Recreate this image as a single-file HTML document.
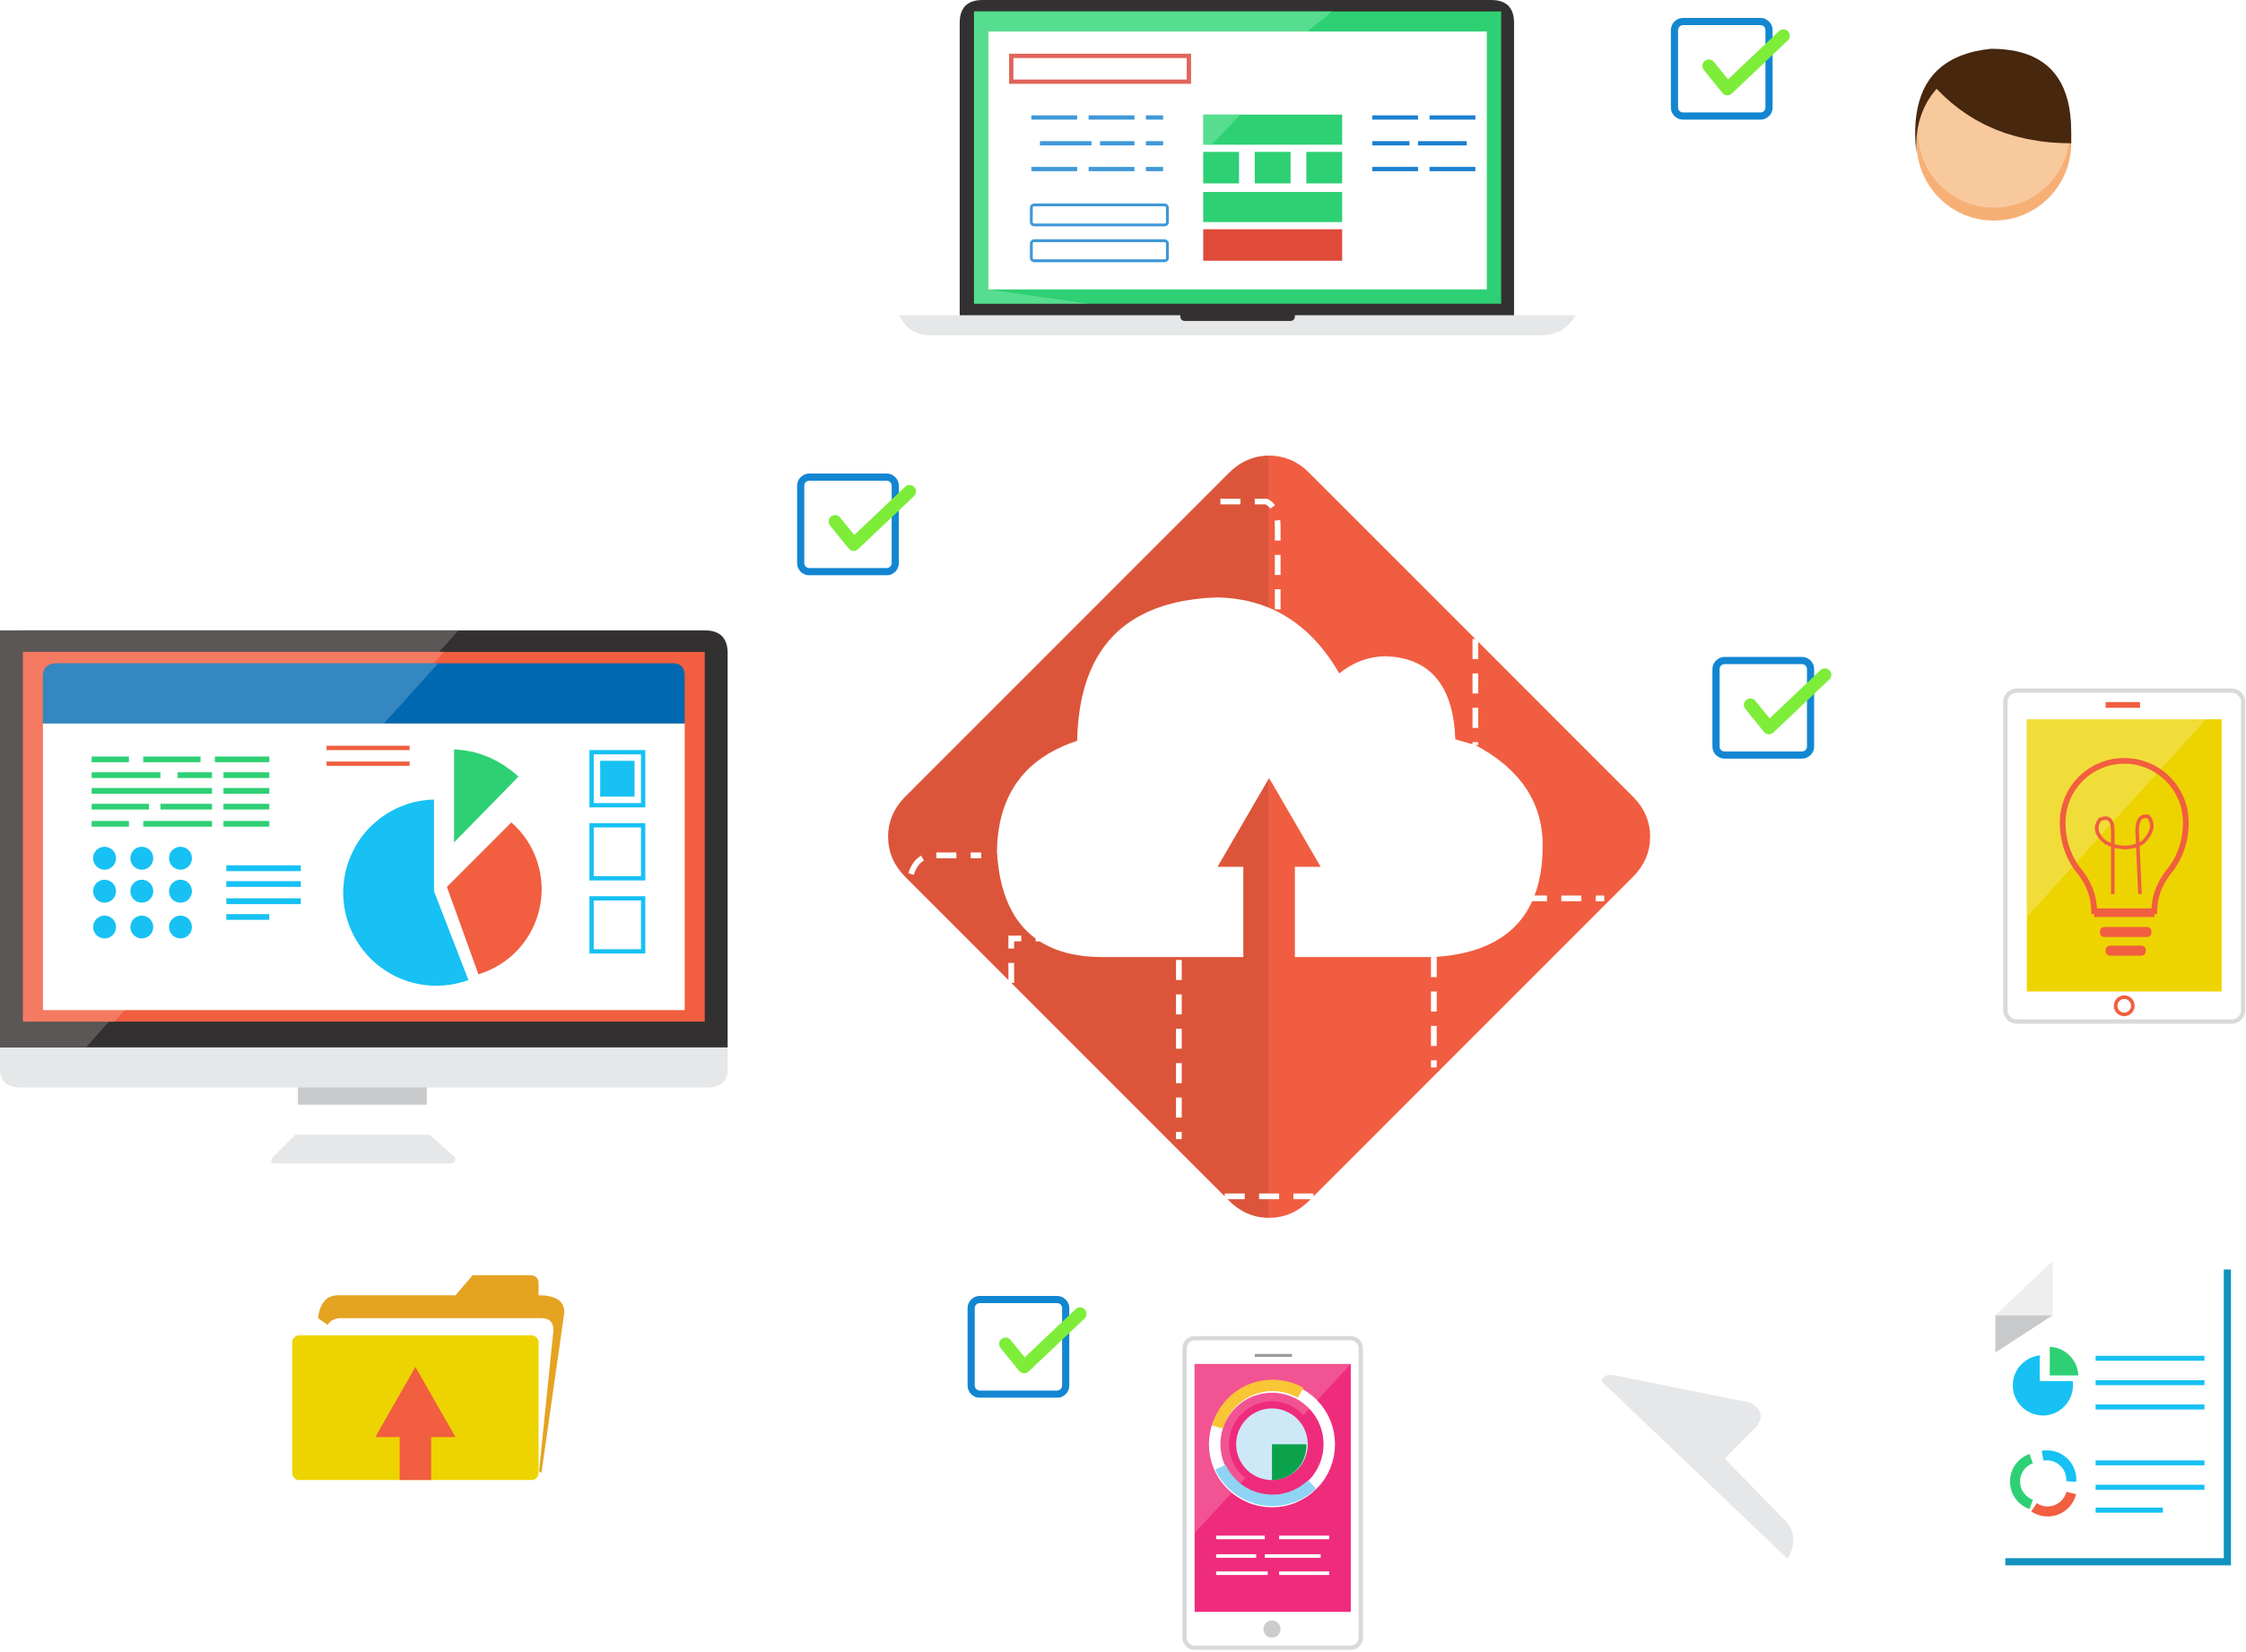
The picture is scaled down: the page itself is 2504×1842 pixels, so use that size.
<!DOCTYPE html>
<html><head><meta charset="utf-8"><style>
html,body{margin:0;padding:0;background:#fff;}
svg{display:block;width:2504px;height:1842px;}
</style></head><body>
<svg viewBox="0 0 1568 1153" xmlns="http://www.w3.org/2000/svg" preserveAspectRatio="none">
<defs>
<g id="chk">
<rect x="2" y="2" width="66" height="66" rx="6" fill="none" stroke="#1386d2" stroke-width="5"/>
<polyline points="26,33 39,49 78,12" fill="none" stroke="#7ded3a" stroke-width="9" stroke-linecap="round" stroke-linejoin="round"/>
</g>
</defs>

<!-- Laptop -->
<path d="M628,220 L1100,220 Q1092,234 1076,234 L650,234 Q634,234 628,220Z" fill="#e6e7e8"/>
<path d="M670,220 L670,16 Q670,0 686,0 L1041,0 Q1057,0 1057,16 L1057,220Z" fill="#333031"/>
<rect x="824" y="216" width="80" height="8" rx="3" fill="#333031"/>
<rect x="680" y="8" width="368" height="204" fill="#2ed074"/>
<path d="M680,8 L930,8 L680,212Z" fill="#57dd8f"/>
<path d="M680,212 L760,212 L690,202 Z" fill="#57dd8f"/>
<rect x="690" y="22" width="348" height="180" fill="#fff"/>
<rect x="706" y="39" width="124" height="18" fill="none" stroke="#e0645a" stroke-width="3"/>
<g stroke="#3f98d8" stroke-width="3">
<line x1="720" y1="82" x2="752" y2="82"/><line x1="760" y1="82" x2="792" y2="82"/><line x1="800" y1="82" x2="812" y2="82"/>
<line x1="726" y1="100" x2="762" y2="100"/><line x1="768" y1="100" x2="792" y2="100"/><line x1="800" y1="100" x2="812" y2="100"/>
<line x1="720" y1="118" x2="752" y2="118"/><line x1="760" y1="118" x2="792" y2="118"/><line x1="800" y1="118" x2="812" y2="118"/>
</g>
<g stroke="#1a7fd0" stroke-width="3">
<line x1="958" y1="82" x2="990" y2="82"/><line x1="998" y1="82" x2="1030" y2="82"/>
<line x1="958" y1="100" x2="984" y2="100"/><line x1="990" y1="100" x2="1024" y2="100"/>
<line x1="958" y1="118" x2="990" y2="118"/><line x1="998" y1="118" x2="1030" y2="118"/>
</g>
<rect x="720" y="143" width="95" height="14" rx="2" fill="none" stroke="#3f98d8" stroke-width="2"/>
<rect x="720" y="168" width="95" height="14" rx="2" fill="none" stroke="#3f98d8" stroke-width="2"/>
<rect x="840" y="80" width="97" height="21" fill="#2ed074"/>
<path d="M840,80 L866,80 L846,101 L840,101Z" fill="#57dd8f"/>
<rect x="840" y="106" width="25" height="22" fill="#2ed074"/>
<rect x="876" y="106" width="25" height="22" fill="#2ed074"/>
<rect x="912" y="106" width="25" height="22" fill="#2ed074"/>
<rect x="840" y="134" width="97" height="21" fill="#2ed074"/>
<rect x="840" y="160" width="97" height="22" fill="#e04a3a"/>

<!-- checkboxes -->
<use href="#chk" x="1167" y="13"/>
<use href="#chk" x="557" y="331"/>
<use href="#chk" x="1196" y="459"/>
<use href="#chk" x="676" y="905"/>

<!-- Avatar -->
<circle cx="1392" cy="100" r="54" fill="#f6b076"/>
<circle cx="1392" cy="92" r="53" fill="#f9c99e"/>
<path d="M1338,108 Q1330,40 1390,34 Q1446,34 1446,92 L1446,100 Q1388,100 1352,62 Q1336,80 1338,108Z" fill="#47270d"/>

<!-- Diamond -->
<path d="M886,318 Q870,318 858,330 L632,556 Q620,568 620,584 Q620,600 632,612 L858,838 Q870,850 886,850Z" fill="#dc553a"/>
<path d="M886,318 Q902,318 914,330 L1140,556 Q1152,568 1152,584 Q1152,600 1140,612 L914,838 Q902,850 886,850Z" fill="#f15d40"/>
<g fill="none" stroke="#fff" stroke-width="4" stroke-dasharray="14,10">
<path d="M852,350 L884,350 Q892,354 892,368 L892,430"/>
<path d="M1030,446 L1030,520"/>
<path d="M1066,627 L1120,627"/>
<path d="M1001,668 L1001,745"/>
<path d="M823,670 L823,795"/>
<path d="M855,835 L920,835"/>
<path d="M706,686 L706,655 L735,655"/>
<path d="M636,610 Q640,598 650,597 L685,597"/>
</g>
<path d="M770,668 L868,668 L868,605 L850,605 L886,543 L922,605 L904,605 L904,668 L1000,668 Q1077,664 1077,590 Q1077,545 1030,520 L1016,516 Q1014,460 968,458 Q950,458 935,470 Q905,418 850,417 Q754,420 752,517 Q697,535 696,594 Q700,668 770,668Z" fill="#fff"/>

<!-- Monitor -->
<path d="M0,731 L508,731 L508,746 Q508,759 494,759 L14,759 Q0,759 0,746Z" fill="#e6e7e8"/>
<path d="M0,731 L0,456 Q0,440 16,440 L492,440 Q508,440 508,456 L508,731Z" fill="#333031"/>
<path d="M0,440 L320,440 L60,731 L0,731Z" fill="#5a5756"/>
<rect x="208" y="759" width="90" height="12" fill="#c9cacc"/>
<path d="M206,792 L300,792 L318,808 Q318,812 314,812 L192,812 Q188,812 190,808Z" fill="#e6e7e8"/>
<rect x="16" y="455" width="476" height="258" fill="#f15e40"/>
<path d="M16,455 L310,455 L80,713 L16,713Z" fill="#f47a62"/>
<path d="M30,505 L30,472 Q30,463 40,463 L470,463 Q478,463 478,472 L478,505Z" fill="#0067b1"/>
<path d="M30,505 L30,472 Q30,463 40,463 L306,463 L268,505Z" fill="#3487c1"/>
<rect x="30" y="505" width="448" height="200" fill="#fff"/>
<g stroke="#2ed074" stroke-width="4">
<line x1="64" y1="530" x2="90" y2="530"/><line x1="100" y1="530" x2="140" y2="530"/><line x1="150" y1="530" x2="188" y2="530"/>
<line x1="64" y1="541" x2="112" y2="541"/><line x1="124" y1="541" x2="148" y2="541"/><line x1="156" y1="541" x2="188" y2="541"/>
<line x1="64" y1="552" x2="148" y2="552"/><line x1="156" y1="552" x2="188" y2="552"/>
<line x1="64" y1="563" x2="104" y2="563"/><line x1="112" y1="563" x2="148" y2="563"/><line x1="156" y1="563" x2="188" y2="563"/>
<line x1="64" y1="575" x2="90" y2="575"/><line x1="100" y1="575" x2="148" y2="575"/><line x1="156" y1="575" x2="188" y2="575"/>
</g>
<g fill="#17c1f3">
<circle cx="73" cy="599" r="8"/><circle cx="99" cy="599" r="8"/><circle cx="126" cy="599" r="8"/>
<circle cx="73" cy="622" r="8"/><circle cx="99" cy="622" r="8"/><circle cx="126" cy="622" r="8"/>
<circle cx="73" cy="647" r="8"/><circle cx="99" cy="647" r="8"/><circle cx="126" cy="647" r="8"/>
</g>
<g stroke="#17c1f3" stroke-width="4">
<line x1="158" y1="606" x2="210" y2="606"/><line x1="158" y1="617" x2="210" y2="617"/><line x1="158" y1="629" x2="210" y2="629"/><line x1="158" y1="640" x2="188" y2="640"/>
</g>
<g stroke="#f15e40" stroke-width="3"><line x1="228" y1="522" x2="286" y2="522"/><line x1="228" y1="533" x2="286" y2="533"/></g>
<path d="M303,558 A65,65 0 1 0 327,684 L303,622Z" fill="#17c1f3"/>
<path d="M317,523 Q342,524 362,542 L317,588Z" fill="#2ed074"/>
<path d="M357,574 A62,62 0 0 1 334,680 L312,619Z" fill="#f15e40"/>
<rect x="413" y="525" width="36" height="37" fill="none" stroke="#17c1f3" stroke-width="3"/>
<rect x="419" y="531" width="24" height="25" fill="#17c1f3"/>
<rect x="413" y="576" width="36" height="37" fill="none" stroke="#17c1f3" stroke-width="3"/>
<rect x="413" y="627" width="36" height="37" fill="none" stroke="#17c1f3" stroke-width="3"/>

<!-- Tablet right -->
<rect x="1400" y="482" width="166" height="231" rx="8" fill="#fff" stroke="#d8d9da" stroke-width="3"/>
<rect x="1415" y="502" width="136" height="190" fill="#edd400"/>
<path d="M1415,502 L1540,502 L1415,640Z" fill="#f1dd3a"/>
<rect x="1470" y="490" width="24" height="4" fill="#f15e40"/>
<circle cx="1483" cy="702" r="6" fill="none" stroke="#f15e40" stroke-width="2.5"/>
<path d="M1462,636 Q1462,620 1450,606 Q1440,592 1440,574 A43,43 0 0 1 1526,574 Q1526,592 1516,606 Q1504,620 1504,636Z" fill="none" stroke="#f15e40" stroke-width="4"/>
<path d="M1475,624 L1475,580 Q1475,568 1466,572 Q1460,580 1470,588 Q1484,595 1496,588 Q1506,578 1500,570 Q1492,568 1492,580 L1494,624" fill="none" stroke="#f15e40" stroke-width="2.5"/>
<rect x="1462" y="636" width="42" height="4" fill="#f15e40"/>
<rect x="1466" y="647" width="36" height="7" rx="3" fill="#f15e40"/>
<rect x="1470" y="660" width="28" height="7" rx="3" fill="#f15e40"/>

<!-- Folder -->
<path d="M222,920 Q224,904 236,904 L318,904 L330,890 L370,890 Q376,890 376,896 L376,904 Q394,904 394,916 L378,1028Z" fill="#e5a322"/>
<path d="M226,932 Q228,920 238,920 L378,920 Q388,920 386,932 L376,1030 L226,1030Z" fill="#fff"/>
<rect x="204" y="932" width="172" height="101" rx="5" fill="#edd400"/>
<path d="M290,954 L318,1003 L301,1003 L301,1033 L279,1033 L279,1003 L262,1003Z" fill="#f15e40"/>

<!-- Phone -->
<rect x="827" y="934" width="123" height="216" rx="7" fill="#fff" stroke="#d8d9da" stroke-width="3"/>
<rect x="876" y="945" width="26" height="2" fill="#999"/>
<circle cx="888" cy="1137" r="6" fill="#ccc"/>
<rect x="834" y="952" width="109" height="173" fill="#ef2b7c"/>
<path d="M834,952 L943,952 L834,1070Z" fill="#f25393"/>
<circle cx="888" cy="1008" r="40" fill="none" stroke="#fff" stroke-width="8"/>
<path d="M850,996 A40,40 0 0 1 908,972" fill="none" stroke="#f8c636" stroke-width="8"/>
<path d="M852,1024 A40,40 0 0 0 916,1036" fill="none" stroke="#8fd4f4" stroke-width="8"/>
<circle cx="888" cy="1008" r="30" fill="#ef2b7c"/>
<circle cx="888" cy="1008" r="25" fill="#cde9f7"/>
<path d="M888,1008 L912,1008 A24,24 0 0 1 888,1033Z" fill="#0ca24c"/>
<g stroke="#fff" stroke-width="2.5">
<line x1="849" y1="1073" x2="883" y2="1073"/><line x1="893" y1="1073" x2="928" y2="1073"/>
<line x1="849" y1="1086" x2="877" y2="1086"/><line x1="883" y1="1086" x2="922" y2="1086"/>
<line x1="849" y1="1098" x2="885" y2="1098"/><line x1="893" y1="1098" x2="928" y2="1098"/>
</g>

<!-- Cursor -->
<path d="M1118,964 Q1120,958 1128,960 L1222,979 Q1234,986 1226,996 L1204,1018 L1248,1063 Q1256,1074 1248,1088 Z" fill="#e6e7e8"/>

<!-- Document -->
<polyline points="1555,886 1555,1090 1400,1090" fill="none" stroke="#1292bf" stroke-width="5"/>
<path d="M1393,918 L1433,880 L1433,918Z" fill="#eeeeee"/>
<path d="M1393,918 L1433,918 L1393,944Z" fill="#c8c9ca"/>
<path d="M1424,946 L1424,964 L1447,964 A21,21 0 1 1 1424,946Z" fill="#17c1f3"/>
<path d="M1431,940 A21,21 0 0 1 1451,960 L1431,960Z" fill="#2ed074"/>
<g fill="none" stroke-width="7">
<path d="M1418,1050 A17,17 0 0 1 1418,1018" stroke="#2ed074"/>
<path d="M1426,1016 A17,17 0 0 1 1446,1034" stroke="#17c1f3"/>
<path d="M1446,1042 A17,17 0 0 1 1420,1052" stroke="#f15e40"/>
</g>
<g stroke="#17c1f3" stroke-width="3.5">
<line x1="1463" y1="948" x2="1539" y2="948"/><line x1="1463" y1="965" x2="1539" y2="965"/><line x1="1463" y1="982" x2="1539" y2="982"/>
<line x1="1463" y1="1021" x2="1539" y2="1021"/><line x1="1463" y1="1038" x2="1539" y2="1038"/><line x1="1463" y1="1054" x2="1510" y2="1054"/>
</g>
</svg>
</body></html>
